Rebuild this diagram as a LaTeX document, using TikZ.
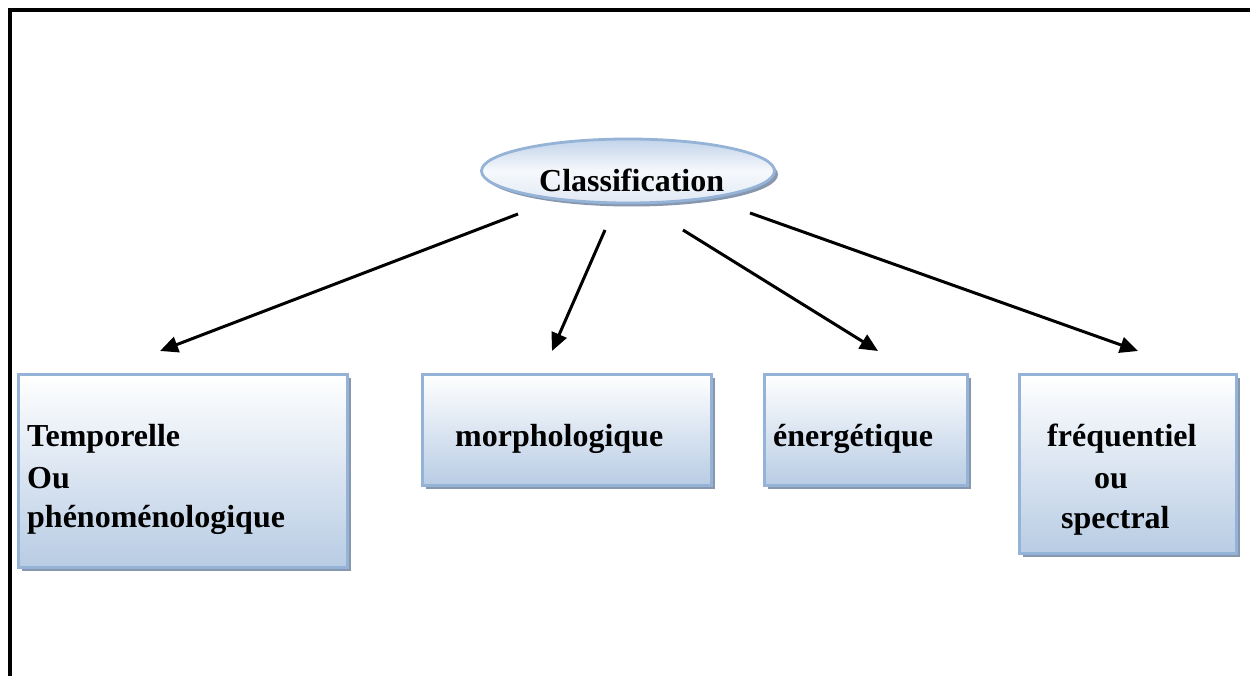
\documentclass[tikz,border=0pt]{standalone}
\usepackage{fontspec}
\setmainfont{Liberation Serif}
\usetikzlibrary{arrows.meta,shadows,shapes.geometric}
\definecolor{boxline}{HTML}{95B3D7}
\definecolor{boxfill}{HTML}{B8CCE4}
\definecolor{shadowc}{HTML}{8797AE}
\definecolor{ellfill}{HTML}{C2D3EA}
\tikzset{
  frame/.style={line width=4.5pt},
  boxnode/.style={rectangle, draw=boxline, line width=2.8pt, inner sep=0pt,
    top color=white, bottom color=boxfill,
    drop shadow={shadow xshift=3.5pt, shadow yshift=-3.5pt, fill=shadowc, opacity=1}},
  ellnode/.style={ellipse, draw=boxline, line width=2.8pt, inner sep=0pt,
    top color=ellfill, bottom color=white!50!ellfill, middle color=white!85!ellfill,
    drop shadow={shadow xshift=3.5pt, shadow yshift=-3.5pt, fill=shadowc, opacity=1}},
  lbl/.style={anchor=base west, inner sep=0pt, font=\fontsize{32}{41}\selectfont\bfseries},
  arr/.style={line width=3pt, -{Triangle[length=18pt,width=16pt]}}
}
\begin{document}
\begin{tikzpicture}[x=1pt,y=-1pt]
\useasboundingbox (0,0) rectangle (1250,676);
\draw[frame] (10,676) -- (10,10) -- (1252,10);

% ellipse
\node[ellnode, minimum width=293pt, minimum height=64pt] (ell) at (628,171) {};
\node[lbl] (cls) at (539,192) {Classification};

% boxes
\node[boxnode, minimum width=329pt, minimum height=193pt] (b1) at (183,471) {};
\node[boxnode, minimum width=289pt, minimum height=111pt] (b2) at (567,430) {};
\node[boxnode, minimum width=203pt, minimum height=111pt] (b3) at (866,430) {};
\node[boxnode, minimum width=217pt, minimum height=179pt] (b4) at (1128,464) {};

% texts
\node[lbl] (t1a) at (27,446) {Temporelle};
\node[lbl] (t1b) at (27,488) {Ou};
\node[lbl] (t1c) at (27,527) {phénoménologique};
\node[lbl] (t2) at (455,446) {morphologique};
\node[lbl] (t3) at (773,446) {énergétique};
\node[lbl] (t4a) at (1047,446) {fréquentiel};
\node[lbl] (t4b) at (1094,488) {ou};
\node[lbl] (t4c) at (1061,528) {spectral};

% arrows
\coordinate (s1) at (518,214); \coordinate (e1) at (160,351);
\coordinate (s2) at (605,230); \coordinate (e2) at (552,351);
\coordinate (s3) at (683,230); \coordinate (e3) at (878,351);
\coordinate (s4) at (750,213); \coordinate (e4) at (1138,351);
\draw[arr] (s1) -- (e1);
\draw[arr] (s2) -- (e2);
\draw[arr] (s3) -- (e3);
\draw[arr] (s4) -- (e4);
\end{tikzpicture}
\end{document}
